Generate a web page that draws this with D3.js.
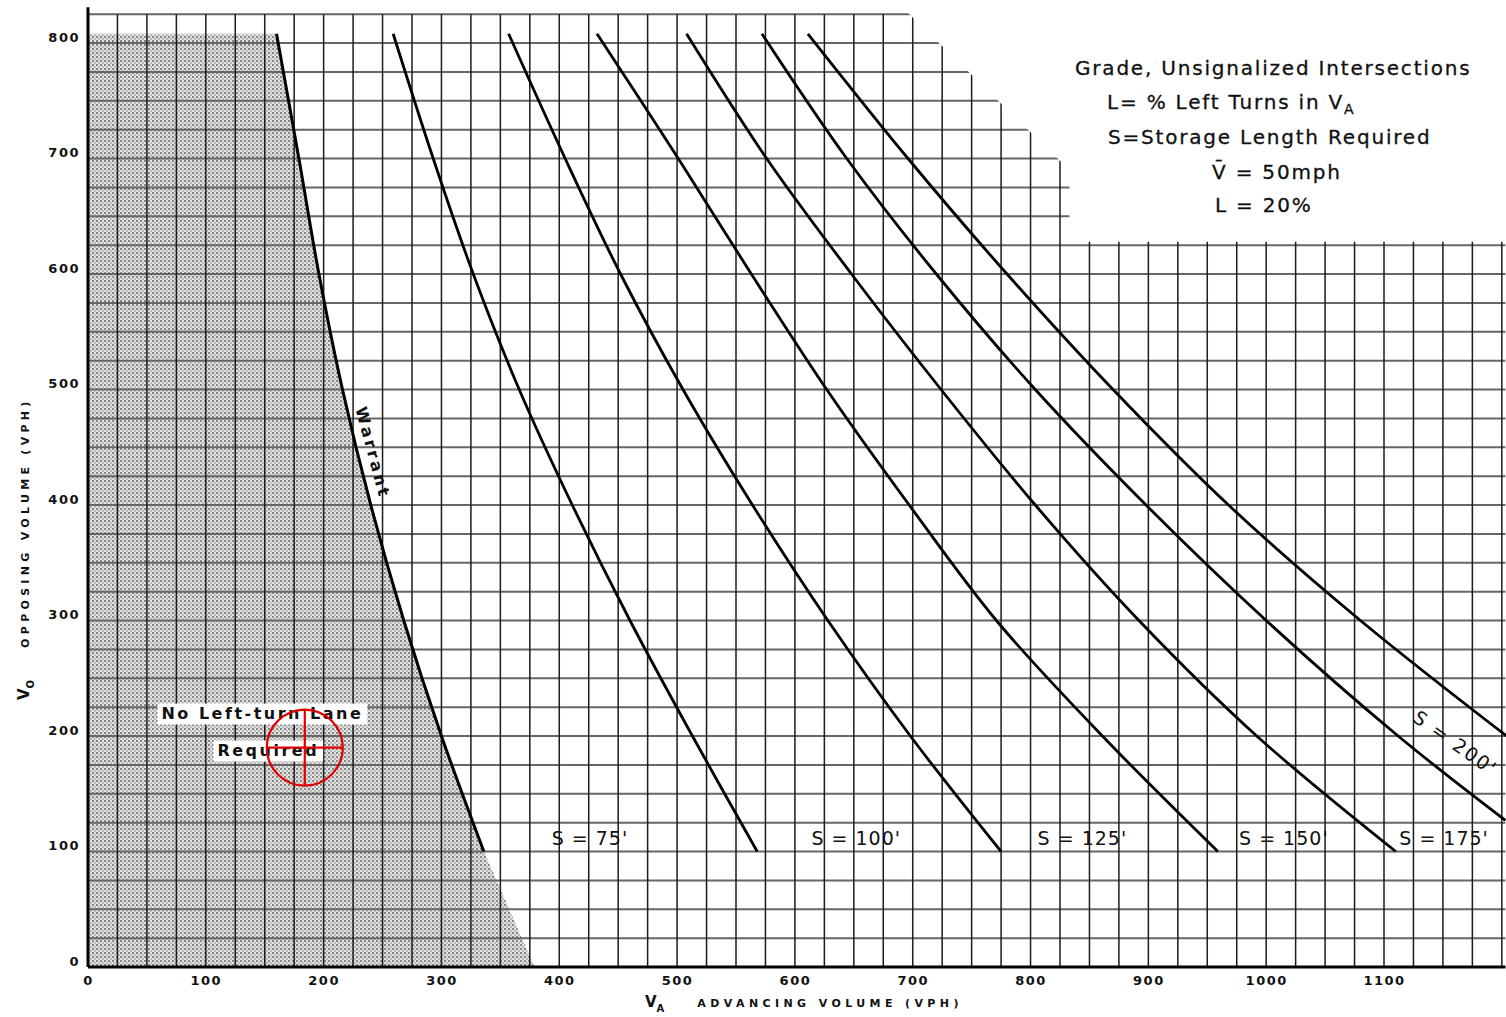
<!DOCTYPE html>
<html>
<head>
<meta charset="utf-8">
<script src="https://cdn.jsdelivr.net/npm/d3@7"></script>
<style>
  body { margin: 0; background: #fff; }
  svg { display: block; }
</style>
</head>
<body>
<svg id="chart" width="1506" height="1017"></svg>
<script>
// tick labels
const xTicks = [0, 100, 200, 300, 400, 500, 600, 700, 800, 900, 1000, 1100];
const yTicks = [0, 100, 200, 300, 400, 500, 600, 700, 800];

// warrant boundary (V_A, V_O)
const warrant = [[160, 808], [179, 700], [196, 600], [216, 500], [240, 400], [268, 300], [300, 200], [336, 100]];
// shaded area continues below V_O = 100 to the axis
const shadeFoot = [379, 0];

// storage length curves
const curveLabels = ["S = 75'", "S = 100'", "S = 125'", "S = 150'", "S = 175'", "S = 200'"];
const s75 = [[259, 808], [293, 700], [327, 600], [366, 500], [411, 400], [460, 300], [513, 200], [568, 100]];
const s100 = [[357, 808], [405, 700], [452, 600], [505, 500], [564, 400], [628, 300], [698, 200], [775, 100]];
const s125 = [[432, 808], [501, 700], [563, 600], [627, 500], [697, 400], [771, 300], [861, 200], [959, 100]];
const s150 = [[508, 808], [576, 700], [648, 600], [724, 500], [804, 400], [892, 300], [992, 200], [1110, 100]];
const s175 = [[572, 808], [644, 700], [720, 600], [804, 500], [898, 400], [1000, 300], [1112, 200], [1203, 127]];
const s200 = [[611, 808], [696, 700], [780, 600], [870, 500], [968, 400], [1080, 300], [1204, 200]];
const sCurves = [s75, s100, s125, s150, s175, s200];

// where the labels of the curves sit (V_A, V_O)
const bottomLabelPos = [[426, 110], [652, 110], [844, 110], [1015, 110], [1151, 110]];
const s200LabelPos = [1160, 193];

const legendLines = [
  "Grade, Unsignalized Intersections",
  "L= % Left Turns in V",
  "S=Storage Length Required",
  "V\u0304 = 50mph",
  "L = 20%",
];

const svg = d3.select("#chart");
svg.selectAll("*").remove();

const x = d3.scaleLinear().domain([0, 1100]).range([88, 1384]);
const y = d3.scaleLinear().domain([0, 800]).range([967, 43]);
const X_END = 1203;
const Y_END = 825;

const defs = svg.append("defs");

// halftone dots for the shaded area
const pat = defs.append("pattern")
  .attr("id", "halftone")
  .attr("patternUnits", "userSpaceOnUse")
  .attr("width", 4)
  .attr("height", 4);
pat.append("rect").attr("width", 4).attr("height", 4).attr("fill", "#e2e2e2");
pat.append("circle").attr("cx", 1).attr("cy", 1).attr("r", 0.9).attr("fill", "#5a5a5a");
pat.append("circle").attr("cx", 3).attr("cy", 3).attr("r", 0.8).attr("fill", "#888");

// grid sheet is cut away top right, where the notes are
const cut = [[-5, -5], [-5, 832], [690, 832], [833, 690], [833, 628], [1210, 628], [1210, -5]];
defs.append("clipPath").attr("id", "sheet")
  .append("polygon")
  .attr("points", cut.map((p) => `${x(p[0])},${y(p[1])}`).join(" "));

const line = d3.line()
  .x((d) => x(d[0]))
  .y((d) => y(d[1]))
  .curve(d3.curveCatmullRom.alpha(0.5));

// shaded "no left-turn lane" region
const shadePath = line(warrant) +
  `L${x(shadeFoot[0])},${y(shadeFoot[1])}` +
  `L${x(0)},${y(0)}L${x(0)},${y(warrant[0][1])}Z`;
svg.append("path")
  .attr("d", shadePath)
  .attr("fill", "url(#halftone)");

// grid
const grid = svg.append("g").attr("clip-path", "url(#sheet)");
grid.selectAll(".hline")
  .data(d3.range(0, Y_END + 1, 25))
  .enter()
  .append("line")
  .attr("class", "hline")
  .attr("x1", x(0))
  .attr("x2", x(X_END))
  .attr("y1", (d) => y(d))
  .attr("y2", (d) => y(d))
  .attr("stroke", "#666")
  .attr("stroke-width", 2);

grid.selectAll(".vline")
  .data(d3.range(25, X_END, 25))
  .enter()
  .append("line")
  .attr("class", "vline")
  .attr("x1", (d) => x(d))
  .attr("x2", (d) => x(d))
  .attr("y1", y(0))
  .attr("y2", y(Y_END))
  .attr("stroke", "#1c1c1c")
  .attr("stroke-width", 1.5);

// axes lines
svg.append("line")
  .attr("x1", x(0)).attr("x2", x(0))
  .attr("y1", y(0)).attr("y2", y(Y_END) - 7)
  .attr("stroke", "#000").attr("stroke-width", 3);
svg.append("line")
  .attr("x1", x(0)).attr("x2", x(X_END))
  .attr("y1", y(0)).attr("y2", y(0))
  .attr("stroke", "#000").attr("stroke-width", 3);

// tick labels
const xAxis = svg.append("g")
  .attr("transform", `translate(0,${y(0)})`)
  .call(d3.axisBottom(x).tickValues(xTicks).tickFormat(d3.format("d")).tickSize(0).tickPadding(9));
const yAxis = svg.append("g")
  .attr("transform", `translate(${x(0)},0)`)
  .call(d3.axisLeft(y).tickValues(yTicks).tickFormat(d3.format("d")).tickSize(0).tickPadding(8));
[xAxis, yAxis].forEach((a) => {
  a.select(".domain").remove();
  a.selectAll("text")
    .attr("font-family", "DejaVu Sans")
    .attr("font-weight", "bold")
    .attr("font-size", 13)
    .attr("letter-spacing", 1.5)
    .attr("fill", "#111");
});
yAxis.selectAll("text").attr("y", -6);

// curves
svg.append("path")
  .datum(warrant)
  .attr("d", line)
  .attr("fill", "none")
  .attr("stroke", "#000")
  .attr("stroke-width", 3);

svg.selectAll(".s-curve")
  .data(sCurves)
  .enter()
  .append("path")
  .attr("class", "s-curve")
  .attr("d", line)
  .attr("fill", "none")
  .attr("stroke", "#000")
  .attr("stroke-width", 2.8);

const labelFont = "DejaVu Sans";

svg.selectAll(".s-label")
  .data(bottomLabelPos)
  .enter()
  .append("text")
  .attr("class", "s-label")
  .attr("x", (d) => x(d[0]))
  .attr("y", (d) => y(d[1]))
  .attr("text-anchor", "middle")
  .attr("dominant-baseline", "middle")
  .attr("font-family", labelFont)
  .attr("font-size", 19)
  .attr("letter-spacing", 1)
  .attr("fill", "#111")
  .text((d, i) => curveLabels[i]);

svg.append("text")
  .attr("transform", `translate(${x(s200LabelPos[0])},${y(s200LabelPos[1])}) rotate(35)`)
  .attr("text-anchor", "middle")
  .attr("dominant-baseline", "middle")
  .attr("font-family", labelFont)
  .attr("font-size", 19)
  .attr("letter-spacing", 2)
  .attr("fill", "#111")
  .text(curveLabels[5]);

// "Warrant" along the boundary
svg.append("text")
  .attr("transform", `translate(${x(241)},${y(445)}) rotate(75)`)
  .attr("text-anchor", "middle")
  .attr("dominant-baseline", "middle")
  .attr("font-family", labelFont)
  .attr("font-weight", "bold")
  .attr("font-size", 16)
  .attr("letter-spacing", 3)
  .attr("fill", "#111")
  .text("Warrant");

// "No Left-turn Lane Required" on white patches
const noLane = [["No Left-turn Lane", 148, 219], ["Required", 153, 187]];
noLane.forEach(([t, vx, vy]) => {
  const g = svg.append("g").attr("transform", `translate(${x(vx)},${y(vy)})`);
  const txt = g.append("text")
    .attr("text-anchor", "middle")
    .attr("dominant-baseline", "middle")
    .attr("font-family", labelFont)
    .attr("font-weight", "bold")
    .attr("font-size", 16)
    .attr("letter-spacing", 2.5)
    .attr("fill", "#111")
    .text(t);
  const bb = txt.node().getBBox();
  g.insert("rect", "text")
    .attr("x", bb.x - 4)
    .attr("y", bb.y)
    .attr("width", bb.width + 8)
    .attr("height", bb.height + 2)
    .attr("fill", "#fff");
});

// red target marker
const target = svg.append("g").attr("transform", `translate(${x(184)},${y(190)})`);
target.append("circle").attr("r", 38).attr("fill", "none").attr("stroke", "#e00000").attr("stroke-width", 2.2);
target.append("line").attr("x1", -38).attr("x2", 38).attr("stroke", "#e00000").attr("stroke-width", 2.2);
target.append("line").attr("y1", -38).attr("y2", 38).attr("stroke", "#e00000").attr("stroke-width", 2.2);

// axis titles
const xTitle = svg.append("text")
  .attr("x", 645)
  .attr("y", 1007)
  .attr("font-family", labelFont)
  .attr("font-weight", "bold")
  .attr("fill", "#111");
xTitle.append("tspan").attr("font-size", 15).text("V");
xTitle.append("tspan").attr("font-size", 10).attr("dy", 5).text("A");
xTitle.append("tspan").attr("font-size", 11).attr("dy", -5).attr("dx", 33)
  .attr("letter-spacing", 4.4).text("ADVANCING  VOLUME  (VPH)");

const yTitle = svg.append("text")
  .attr("transform", "translate(29,700) rotate(-90)")
  .attr("font-family", labelFont)
  .attr("font-weight", "bold")
  .attr("fill", "#111");
yTitle.append("tspan").attr("font-size", 15).text("V");
yTitle.append("tspan").attr("font-size", 10).attr("dy", 5).text("O");
yTitle.append("tspan").attr("font-size", 11).attr("dy", -5).attr("dx", 32)
  .attr("letter-spacing", 4.3).text("OPPOSING  VOLUME  (VPH)");

// notes box
const notes = svg.append("g").attr("font-family", labelFont).attr("fill", "#111");
const noteX = [1075, 1107, 1108, 1212, 1215];
const noteY = [75, 109, 144, 179, 212];
legendLines.forEach((t, i) => {
  const tx = notes.append("text")
    .attr("x", noteX[i])
    .attr("y", noteY[i])
    .attr("font-size", 20)
    .attr("letter-spacing", 1.8)
    .attr("stroke", "#111")
    .attr("stroke-width", 0.3)
    .text(t);
  if (i === 1) {
    tx.append("tspan").attr("font-size", 14).attr("dy", 5).text("A");
  }
});
</script>
</body>
</html>
